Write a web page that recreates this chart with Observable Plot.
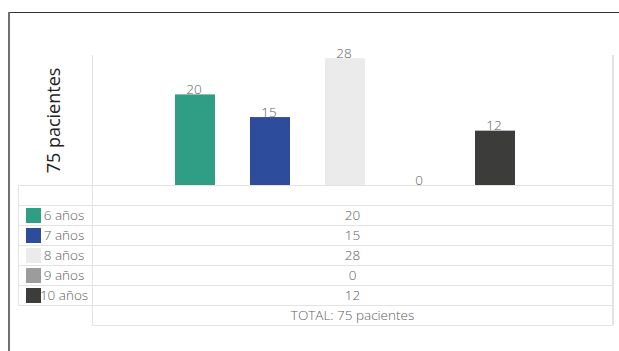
<!DOCTYPE html>
<html>
<head>
<meta charset="utf-8">
<script src="https://cdn.jsdelivr.net/npm/d3@7"></script>
<script src="https://cdn.jsdelivr.net/npm/@observablehq/plot@0.6"></script>
<style>
  html, body { margin: 0; padding: 0; background: #fff; }
  #wrap { position: relative; width: 619px; height: 351px; overflow: hidden; font-family: "Open Sans", sans-serif; }
  .ln { position: absolute; background: #e3e3e3; }
  .txt { position: absolute; font-size: 13.5px; font-weight: 300; color: #5e5e5e; line-height: 20px; white-space: nowrap; }
  svg { position: absolute; left: 0; top: 0; }
</style>
</head>
<body>
<div id="wrap"></div>
<script>
const categories = ["6 años", "7 años", "8 años", "9 años", "10 años"];
const values = [20, 15, 28, 0, 12];
const colors = ["#2f9e85", "#2d4c9b", "#ebebeb", "#9c9c9c", "#3c3c3b"];
const axisTitle = "75 pacientes";
const totalLabel = "TOTAL: 75 pacientes";

const data = categories.map((c, i) => ({cat: c, value: values[i], color: colors[i]}));
const wrap = document.getElementById("wrap");

// outer frame
const frameTop = document.createElement("div");
frameTop.style.cssText = "position:absolute;left:8px;top:12px;width:611px;height:0;border-top:1.5px solid #333;";
wrap.appendChild(frameTop);
const frameLeft = document.createElement("div");
frameLeft.style.cssText = "position:absolute;left:8px;top:12px;width:0;height:339px;border-left:2px solid #707070;";
wrap.appendChild(frameLeft);

// table grid lines
function line(x, y, w, h) {
  const d = document.createElement("div");
  d.className = "ln";
  d.style.left = x + "px"; d.style.top = y + "px";
  d.style.width = w + "px"; d.style.height = h + "px";
  wrap.appendChild(d);
}
const rowH = 20, top0 = 185;
for (let r = 0; r <= categories.length + 1; r++) line(18, top0 + r * rowH - 0.5, 595, 1.5);
line(92, top0 + (categories.length + 2) * rowH - 0.5, 521, 1.5);
line(17.5, top0, 1.5, (categories.length + 1) * rowH);
line(91.5, 55, 1.5, 130 + (categories.length + 2) * rowH);
line(612, 55, 1.5, 130 + (categories.length + 2) * rowH);

// legend rows and values
categories.forEach((c, i) => {
  const y = top0 + (i + 1) * rowH;
  const sw = document.createElement("div");
  sw.style.cssText = `position:absolute;left:26px;top:${y + 3}px;width:15px;height:15px;background:${colors[i]};`;
  wrap.appendChild(sw);
  const lab = document.createElement("div");
  lab.className = "txt";
  lab.style.left = "34px"; lab.style.width = "60px"; lab.style.textAlign = "center";
  lab.style.top = y + "px";
  lab.textContent = c;
  wrap.appendChild(lab);
  const v = document.createElement("div");
  v.className = "txt";
  v.style.left = "92px"; v.style.width = "521px"; v.style.textAlign = "center";
  v.style.top = y + "px";
  v.textContent = values[i];
  wrap.appendChild(v);
});
const tot = document.createElement("div");
tot.className = "txt";
tot.style.left = "92px"; tot.style.width = "521px"; tot.style.textAlign = "center";
tot.style.top = (top0 + (categories.length + 1) * rowH) + "px";
tot.textContent = totalLabel;
wrap.appendChild(tot);

const chart = Plot.plot({
  width: 619,
  height: 186,
  marginLeft: 92,
  marginRight: 6,
  marginTop: 55,
  marginBottom: 1,
  style: {fontFamily: "Open Sans, sans-serif", background: "transparent", overflow: "visible"},
  x: {domain: categories, range: [174, 516], paddingInner: 0.47, paddingOuter: 0, axis: null},
  y: {domain: [0, 28.7], axis: null},
  marks: [
    Plot.barY(data, {x: "cat", y: "value", fill: "color"}),
    Plot.text(data, {x: "cat", y: "value", text: d => String(d.value), lineAnchor: "bottom", dy: -1, dx: -1.5, fontSize: 13.5, fontWeight: 300, fill: "#5e5e5e"}),
    Plot.text([axisTitle], {frameAnchor: "left", text: d => d, rotate: -90, dx: -38, fontSize: 18, fill: "#222", lineAnchor: "middle", textAnchor: "middle"})
  ]
});
wrap.appendChild(chart);
</script>
</body>
</html>
